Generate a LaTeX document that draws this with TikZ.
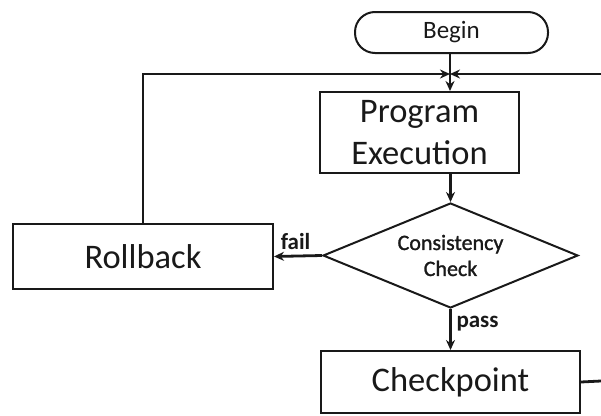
\documentclass[tikz,border=0pt]{standalone}
\usepackage{fontspec}
\setmainfont{Carlito}
\newfontfamily\semibold[FakeBold=1.2]{Carlito}
\usetikzlibrary{shapes.geometric,arrows.meta}
\begin{document}
\begin{tikzpicture}[x=1pt,y=-1pt,
  every node/.style={inner sep=0pt, line width=2pt, draw=black!90, text=black!90},
  procbox/.style={rectangle, font=\fontsize{34.5}{42}\selectfont, align=center},
  terminal/.style={rectangle, rounded corners=20pt, font=\fontsize{25}{30}\selectfont},
  decision/.style={diamond, font=\semibold\fontsize{22}{26}\selectfont, align=center},
  lbl/.style={draw=none, font=\bfseries\fontsize{23}{27}\selectfont},
  flow/.style={line width=2.8pt, draw=black!90, -{Stealth[length=10pt,width=9pt]}},
  wire/.style={line width=2.8pt, draw=black!90}]
  \useasboundingbox (0,0) rectangle (601,415);

  % process blocks
  \node[terminal, minimum width=193pt, minimum height=41pt] (begin) at (451.5,32.5) {Begin};
  \node[procbox, minimum width=199pt, minimum height=81pt] (exec) at (419.5,132.5) {Program\\Execution};
  \node[decision, minimum width=255pt, minimum height=105pt, aspect=2.43] (check) at (450.5,255.5) {Consistency\\Check};
  \node[procbox, minimum width=260pt, minimum height=65pt] (rollback) at (143,256.5) {Rollback};
  \node[procbox, minimum width=259pt, minimum height=62pt] (ckpt) at (450.5,382) {Checkpoint};

  % junction above the execution block
  \coordinate (join) at (450,74);
  \coordinate (rightin) at (601,74);
  \coordinate (rightout) at (601,381);
  \coordinate (loopcorner) at (rollback.north |- join);

  % connectors
  \draw[wire] (begin.south -| join) -- (join);
  \draw[flow] (join) -- (join |- exec.north);
  \draw[flow] (exec.south -| check.north) -- (check.north);
  \draw[flow] (check.west) -- (rollback.east) node[lbl, pos=0.55, above=5pt] {fail};
  \draw[flow] (check.south) -- (check.south |- ckpt.north) node[lbl, pos=0.35, right=5pt] {pass};
  \draw[flow] (rollback.north) -- (loopcorner) -- (join);
  \draw[flow] (rightin) -- (join);
  \draw[wire] (ckpt.east) -- (rightout);
\end{tikzpicture}
\end{document}
